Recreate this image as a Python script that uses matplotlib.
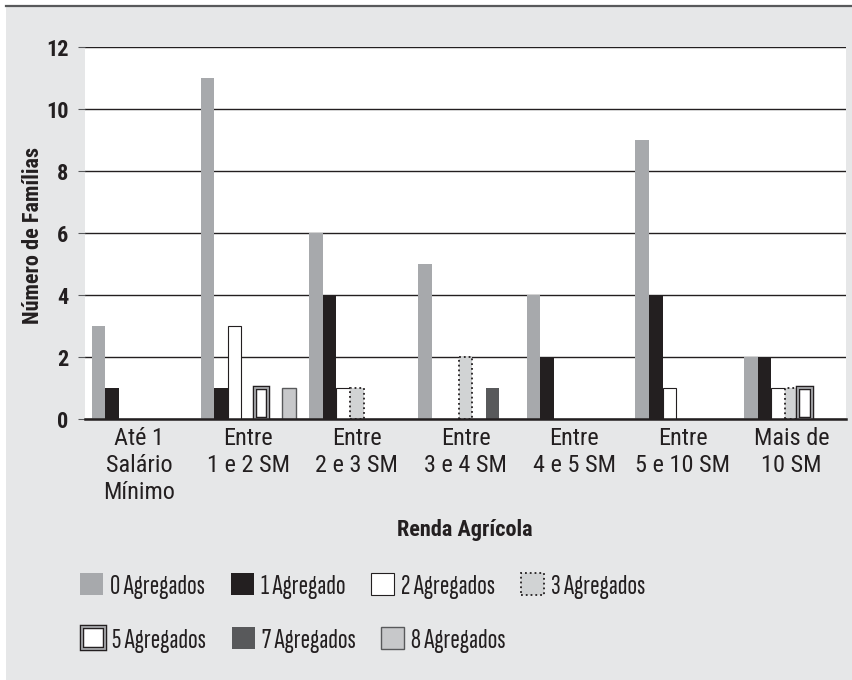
import matplotlib
matplotlib.use("Agg")
import matplotlib.pyplot as plt
from matplotlib.patches import Patch, Rectangle
from matplotlib.lines import Line2D
import numpy as np

plt.rcParams['font.family'] = ['Roboto Condensed', 'DejaVu Sans']
LEGEND_FONT = ['Sofia Sans Extra Condensed', 'Barlow Condensed', 'DejaVu Sans']

categories = ["Até 1\nSalário\nMínimo", "Entre\n1 e 2 SM", "Entre\n2 e 3 SM", "Entre\n3 e 4 SM",
              "Entre\n4 e 5 SM", "Entre\n5 e 10 SM", "Mais de\n10 SM"]
series_names = ["0 Agregados", "1 Agregado", "2 Agregados", "3 Agregados",
                "5 Agregados", "7 Agregados", "8 Agregados"]
ag0 = [3, 11, 6, 5, 4, 9, 2]
ag1 = [1, 1, 4, 0, 2, 4, 2]
ag2 = [0, 3, 1, 0, 0, 1, 1]
ag3 = [0, 0, 1, 2, 0, 0, 1]
ag5 = [0, 1, 0, 0, 0, 0, 1]
ag7 = [0, 0, 0, 1, 0, 0, 0]
ag8 = [0, 1, 0, 0, 0, 0, 0]
yticks = [0, 2, 4, 6, 8, 10, 12]

BLACK = '#231f20'
GRAY0 = '#a7a9ac'
DARK = '#58595b'
LIGHT = '#d1d3d4'
LIGHT8 = '#c7c8ca'
BG = '#e6e7e8'

styles = [
    [dict(facecolor=GRAY0, edgecolor='none', linewidth=0)],
    [dict(facecolor=BLACK, edgecolor='none', linewidth=0)],
    [dict(facecolor='white', edgecolor=BLACK, linewidth=0.8)],
    [dict(facecolor=LIGHT, edgecolor=BLACK, linewidth=1.3, linestyle=':')],
    [dict(facecolor='white', edgecolor=BLACK, linewidth=3.2),
     dict(facecolor='none', edgecolor=GRAY0, linewidth=1.3)],
    [dict(facecolor=DARK, edgecolor='none', linewidth=0)],
    [dict(facecolor=LIGHT8, edgecolor=DARK, linewidth=1.0)],
]

fig = plt.figure(figsize=(8.52, 6.8), dpi=100, facecolor='white')
fig.patches.append(Rectangle((6/852, 0), 1 - 6/852, 1 - 6/680, transform=fig.transFigure,
                             facecolor=BG, edgecolor='none', zorder=-10))
fig.lines.append(Line2D([6/852, 1], [1 - 6/680, 1 - 6/680], transform=fig.transFigure,
                        color=DARK, linewidth=1.6))

ax = fig.add_axes([85/852, 1 - 419/680, (846 - 85)/852, (419 - 47)/680])
ax.set_facecolor('white')

data = [ag0, ag1, ag2, ag3, ag5, ag7, ag8]
x = np.arange(len(categories))
w = 0.125
handles = []
for i, vals in enumerate(data):
    vals = np.array(vals, dtype=float)
    mask = vals > 0
    xs = x[mask] + (i - 3) * w
    for st in styles[i]:
        ax.bar(xs, vals[mask], width=w, zorder=3, **st)
    hs = [Patch(**st) for st in styles[i]]
    handles.append(hs[0] if len(hs) == 1 else tuple(hs))

ax.set_xlim(-0.5, len(categories) - 0.5)
ax.set_ylim(0, 12)
ax.set_yticks(yticks)
ax.set_yticklabels([str(t) for t in yticks], fontsize=16, fontweight='bold', color=BLACK)
ax.yaxis.grid(True, color=BLACK, linewidth=1.0, zorder=1)
ax.set_axisbelow(True)
for s in ['left', 'right', 'top']:
    ax.spines[s].set_visible(False)
ax.spines['bottom'].set_color(BLACK)
ax.spines['bottom'].set_linewidth(1.8)
ax.spines['bottom'].set_zorder(5)
ax.tick_params(axis='y', length=5, width=0.8, color=DARK, pad=7)
ax.set_xticks(x)
ax.set_xticklabels(categories, fontsize=17.5, fontweight='normal', color=BLACK, linespacing=1.22)
ax.tick_params(axis='x', length=0, pad=6)

fig.text(33/852, 1 - 235/680, "Número de Famílias", rotation=90, fontsize=16,
         fontweight='bold', color=BLACK, ha='center', va='center')
fig.text(465/852, 1 - 530/680, "Renda Agrícola", fontsize=16, fontweight='bold',
         color=BLACK, ha='center', va='center')

fs_pt = 20.5
fs_px = fs_pt * 100 / 72
common = dict(frameon=False, prop={'family': LEGEND_FONT, 'size': fs_pt, 'weight': 'light'},
              handlelength=23 / fs_px, handleheight=23 / fs_px, borderpad=0, borderaxespad=0,
              handletextpad=0.25, columnspacing=0.9, loc='center left')
rows = [[0, 1, 2, 3], [4, 5, 6]]
row_pos = [(80, 586), (82, 640)]
for r, (px, py) in zip(rows, row_pos):
    lg = fig.legend([handles[k] for k in r], [series_names[k] for k in r], ncol=len(r),
                    bbox_to_anchor=(px / 852, 1 - py / 680), **common)
    for t in lg.get_texts():
        t.set_color(BLACK)

fig.savefig("out.png", dpi=100, facecolor=fig.get_facecolor())
